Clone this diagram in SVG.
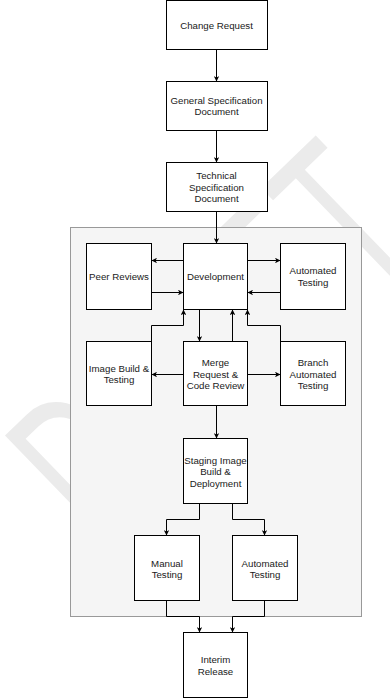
<svg xmlns="http://www.w3.org/2000/svg" width="390" height="699" viewBox="0 0 390 699">
<style>
.box{fill:#ffffff;stroke:#000000;stroke-width:1}
.t{font-family:"Liberation Sans",Arial,sans-serif;font-size:9.7px;fill:#1a1a1a;text-anchor:middle}
.c{fill:none;stroke:#000000;stroke-width:1;marker-end:url(#arr)}
.wm{font-family:"Liberation Sans",Arial,sans-serif;font-size:223px;fill:#ebebeb}
</style>
<defs>
<marker id="arr" viewBox="0 0 10 10" refX="10" refY="5" markerWidth="6" markerHeight="5.5" markerUnits="userSpaceOnUse" orient="auto">
<path d="M0,0 L10,5 L0,10 L2.5,5 z" fill="#000000"/>
</marker>
</defs>
<rect width="390" height="699" fill="#ffffff"/>
<text class="wm" transform="translate(103.8,553.4) rotate(-44) scale(0.6,1)">DRAFT</text>
<g id="container"><rect x="70.5" y="227.5" width="291" height="389" fill="#f5f5f5" stroke="#999999"/></g>
<g id="connectors">
<path class="c" d="M216.5,49.5 V81.5"/>
<path class="c" d="M216.5,130.5 V162.5"/>
<path class="c" d="M216.5,211.5 V243.5"/>
<path class="c" d="M183.5,260.5 H151.5"/>
<path class="c" d="M151.5,292.5 H183.5"/>
<path class="c" d="M247.5,260.5 H280.5"/>
<path class="c" d="M280.5,292.5 H247.5"/>
<path class="c" d="M199.5,309.5 V341.5"/>
<path class="c" d="M232.5,341.5 V309.5"/>
<path class="c" d="M151.5,341.5 V325.5 H183.5 V309.5"/>
<path class="c" d="M280.5,341.5 V325.5 H247.5 V309.5"/>
<path class="c" d="M183.5,374.5 H151.5"/>
<path class="c" d="M247.5,374.5 H280.5"/>
<path class="c" d="M216.5,405.5 V438.5"/>
<path class="c" d="M199.5,503.5 V519.5 H166.5 V535.5"/>
<path class="c" d="M232.5,503.5 V519.5 H264.5 V535.5"/>
<path class="c" d="M166.5,600.5 V616.5 H199.5 V632.5"/>
<path class="c" d="M264.5,600.5 V616.5 H232.5 V632.5"/>
</g>
<g id="change-request"><rect class="box" x="166.5" y="0.5" width="101" height="49"/><text class="t" x="216.5" y="28.5">Change Request</text></g>
<g id="general-spec"><rect class="box" x="166.5" y="81.5" width="101" height="49"/><text class="t" x="216.5" y="103.5">General Specification</text><text class="t" x="216.5" y="115.2">Document</text></g>
<g id="technical-spec"><rect class="box" x="166.5" y="162.5" width="101" height="49"/><text class="t" x="216.5" y="178.8">Technical</text><text class="t" x="216.5" y="190.5">Specification</text><text class="t" x="216.5" y="202.2">Document</text></g>
<g id="peer-reviews"><rect class="box" x="86.5" y="243.5" width="65" height="66"/><text class="t" x="119" y="280">Peer Reviews</text></g>
<g id="development"><rect class="box" x="183.5" y="243.5" width="64" height="66"/><text class="t" x="215.5" y="280">Development</text></g>
<g id="automated-testing-1"><rect class="box" x="280.5" y="243.5" width="65" height="66"/><text class="t" x="313" y="274.2">Automated</text><text class="t" x="313" y="285.8">Testing</text></g>
<g id="image-build"><rect class="box" x="86.5" y="341.5" width="65" height="64"/><text class="t" x="119" y="371.7">Image Build &amp;</text><text class="t" x="119" y="383.3">Testing</text></g>
<g id="merge-request"><rect class="box" x="183.5" y="341.5" width="64" height="64"/><text class="t" x="215.5" y="365.8">Merge</text><text class="t" x="215.5" y="377.5">Request &amp;</text><text class="t" x="215.5" y="389.2">Code Review</text></g>
<g id="branch-testing"><rect class="box" x="280.5" y="341.5" width="65" height="64"/><text class="t" x="313" y="365.8">Branch</text><text class="t" x="313" y="377.5">Automated</text><text class="t" x="313" y="389.2">Testing</text></g>
<g id="staging"><rect class="box" x="183.5" y="438.5" width="64" height="65"/><text class="t" x="215.5" y="464">Staging Image</text><text class="t" x="215.5" y="475.3">Build &amp;</text><text class="t" x="215.5" y="486.6">Deployment</text></g>
<g id="manual-testing"><rect class="box" x="134.5" y="535.5" width="65" height="65"/><text class="t" x="167" y="566.8">Manual</text><text class="t" x="167" y="578.3">Testing</text></g>
<g id="automated-testing-2"><rect class="box" x="232.5" y="535.5" width="65" height="65"/><text class="t" x="265" y="566.8">Automated</text><text class="t" x="265" y="578.3">Testing</text></g>
<g id="interim-release"><rect class="box" x="183.5" y="632.5" width="64" height="65"/><text class="t" x="215.5" y="663.2">Interim</text><text class="t" x="215.5" y="674.7">Release</text></g>
</svg>
